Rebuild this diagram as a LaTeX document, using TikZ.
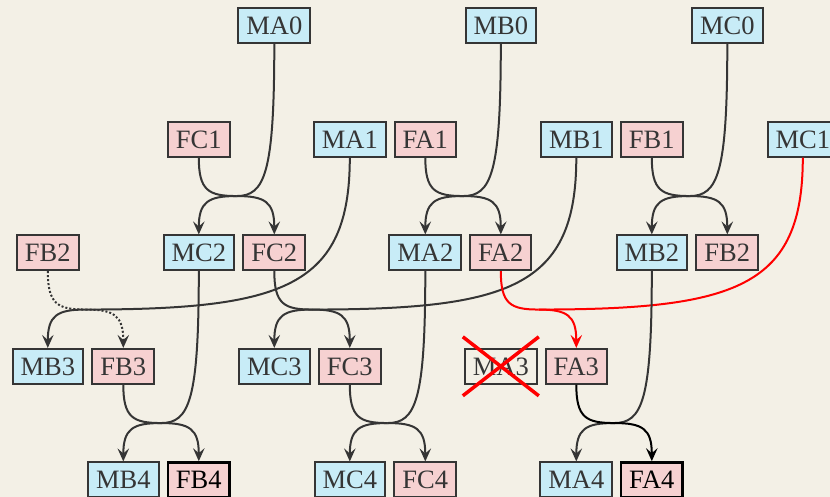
\documentclass[tikz,border=0pt]{standalone}
\usepackage{fontspec}
\setmainfont{Liberation Serif}
\usetikzlibrary{arrows.meta,calc}
\definecolor{bg}{HTML}{F3F0E6}
\definecolor{mfill}{HTML}{C8ECF7}
\definecolor{ffill}{HTML}{F6D1D1}
\definecolor{ink}{HTML}{353535}
\tikzset{
 box/.style={draw=ink, line width=2pt, text=ink, inner xsep=8pt, inner ysep=0pt,
   minimum height=34.7pt, text height=17.5pt, text depth=0pt,
   font=\fontsize{26.5pt}{30pt}\selectfont},
 mnode/.style={box, fill=mfill},
 fnode/.style={box, fill=ffill},
 hinode/.style={draw=black, text=black, line width=2.5pt},
 gonenode/.style={box, fill=none},
 edge/.style={draw=ink, line width=2pt},
 arr/.style={-{Stealth[length=13pt,width=11.5pt,inset=5pt]}},
 rededge/.style={draw=red},
 blackedge/.style={draw=black},
 dotedge/.style={dotted},
 xmark/.style={draw=red, line width=3.5pt},
}
\newcommand\mymerge[3][]{\draw[edge,#1] (#2.south) .. controls ($(#2.south)!0.85!(#2.south |- #3)$) and ($(#3)!0.75!(#2.south |- #3)$) .. (#3);}
\newcommand\mysplit[3][]{\draw[edge,arr,#1] (#2) .. controls ($(#2)!0.75!(#3.north |- #2)$) and ($(#3.north)!0.85!(#3.north |- #2)$) .. (#3.north);}
\begin{document}
\begin{tikzpicture}[x=1pt,y=-1pt]
\fill[bg] (0,0) rectangle (830,497);
\useasboundingbox (0,0) rectangle (830,497);
% row 0
\node[mnode] (MA0) at (274.3,25.8) {MA0};
\node[mnode] (MB0) at (500.8,25.8) {MB0};
\node[mnode] (MC0) at (727.3,25.8) {MC0};
% row 1
\node[fnode] (FC1) at (198.8,139.3) {FC1};
\node[mnode] (MA1) at (349.8,139.3) {MA1};
\node[fnode] (FA1) at (425.3,139.3) {FA1};
\node[mnode] (MB1) at (576.3,139.3) {MB1};
\node[fnode] (FB1) at (651.8,139.3) {FB1};
\node[mnode] (MC1) at (802.8,139.3) {MC1};
% row 2
\node[fnode] (FBL) at (47.8,252.8) {FB2};
\node[mnode] (MC2) at (198.8,252.8) {MC2};
\node[fnode] (FC2) at (274.3,252.8) {FC2};
\node[mnode] (MA2) at (425.3,252.8) {MA2};
\node[fnode] (FA2) at (500.8,252.8) {FA2};
\node[mnode] (MB2) at (651.8,252.8) {MB2};
\node[fnode] (FB2) at (727.3,252.8) {FB2};
% row 3
\node[mnode] (MB3) at (47.8,366.3) {MB3};
\node[fnode] (FB3) at (123.3,366.3) {FB3};
\node[mnode] (MC3) at (274.3,366.3) {MC3};
\node[fnode] (FC3) at (349.8,366.3) {FC3};
\node[gonenode] (MA3) at (500.8,366.3) {MA3};
\node[fnode] (FA3) at (576.3,366.3) {FA3};
% row 4
\node[mnode] (MB4) at (123.3,479.8) {MB4};
\node[fnode,hinode] (FB4) at (198.8,479.8) {FB4};
\node[mnode] (MC4) at (349.8,479.8) {MC4};
\node[fnode] (FC4) at (425.3,479.8) {FC4};
\node[mnode] (MA4) at (576.3,479.8) {MA4};
\node[fnode,hinode] (FA4) at (651.8,479.8) {FA4};
% junctions
\coordinate (J1a) at (236.55,196.05);
\coordinate (J1b) at (463.05,196.05);
\coordinate (J1c) at (689.55,196.05);
\coordinate (J2a) at (85.55,309.55);
\coordinate (J2b) at (312.05,309.55);
\coordinate (J2c) at (538.55,309.55);
\coordinate (J3a) at (161.05,423.05);
\coordinate (J3b) at (387.55,423.05);
\coordinate (J3c) at (614.05,423.05);
% row 0/1 -> row 2
\mymerge{FC1}{J1a} \mymerge{MA0}{J1a} \mysplit{J1a}{MC2} \mysplit{J1a}{FC2}
\mymerge{FA1}{J1b} \mymerge{MB0}{J1b} \mysplit{J1b}{MA2} \mysplit{J1b}{FA2}
\mymerge{FB1}{J1c} \mymerge{MC0}{J1c} \mysplit{J1c}{MB2} \mysplit{J1c}{FB2}
% row 1/2 -> row 3
\mymerge[dotedge]{FBL}{J2a} \mysplit[dotedge]{J2a}{FB3}
\mymerge{MA1}{J2a} \mysplit{J2a}{MB3}
\mymerge{FC2}{J2b} \mymerge{MB1}{J2b} \mysplit{J2b}{MC3} \mysplit{J2b}{FC3}
\mymerge[rededge]{FA2}{J2c} \mymerge[rededge]{MC1}{J2c} \mysplit[rededge]{J2c}{FA3}
% row 2/3 -> row 4
\mymerge{FB3}{J3a} \mymerge{MC2}{J3a} \mysplit{J3a}{MB4} \mysplit{J3a}{FB4}
\mymerge{FC3}{J3b} \mymerge{MA2}{J3b} \mysplit{J3b}{MC4} \mysplit{J3b}{FC4}
\mymerge{MB2}{J3c} \mysplit{J3c}{MA4}
\mymerge[blackedge]{FA3}{J3c} \mysplit[blackedge]{J3c}{FA4}
% crossed-out node
\draw[xmark] ($(MA3.center)+(-38,-29.5)$) -- ($(MA3.center)+(38,29.5)$);
\draw[xmark] ($(MA3.center)+(-38,29.5)$) -- ($(MA3.center)+(38,-29.5)$);
\end{tikzpicture}
\end{document}
